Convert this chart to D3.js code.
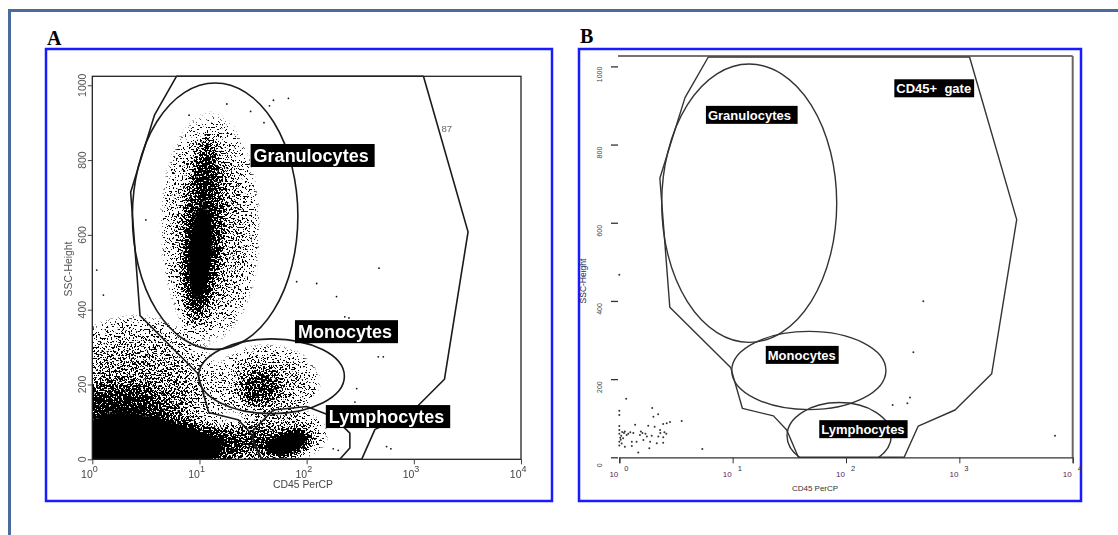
<!DOCTYPE html>
<html>
<head>
<meta charset="utf-8">
<script src="https://cdn.jsdelivr.net/npm/d3@7"></script>
<style>
body { margin: 0; background: #fff; }
svg { display: block; font-family: Arial, "Liberation Sans", sans-serif; }
</style>
</head>
<body>
<script>
// gates (CD45 PerCP, SSC-Height), the same in both panels
var cd45Gate = [[6.1, 1024], [3.8, 920], [2.28, 714], [2.79, 384], [9.6, 230], [12.2, 125],
                [22.9, 106], [30, 70], [38, 0], [326, 0], [434, 80], [916, 121],
                [1930, 214], [3206, 608], [1230, 1024]];
// ellipse gates: centre cd45, centre ssc, half width in decades, half height in ssc
var granGate = [14, 650, 0.772, 356];
var monoGate = [47, 222, 0.68, 100];
var lymphGateA = [[31.8, 78], [48.9, 132], [100, 141], [177, 114], [253, 70],
                  [253, 30], [204, 0], [38, 0], [31.8, 43]];
var lymphGateB = [87, 55, 0.46, 85];

// panel A event density
// [cd45 centre, ssc centre, half width (decades), half height, tilt, peak density]
var densityA = [
  [12.6, 620, 0.5, 330, 0, 0.36],
  [10.7, 600, 0.24, 280, 4, 0.6],
  [10, 540, 0.17, 200, 4, 0.85],
  [11.5, 780, 0.12, 110, 4, 0.5],
  [42, 205, 0.55, 110, 0, 0.32],
  [37, 190, 0.25, 65, 0, 0.6],
  [60, 65, 0.45, 75, 0, 0.4],
  [66, 42, 0.26, 38, -18, 1],
  [2.8, 30, 1.0, 90, 0, 1],
  [1.6, 110, 0.7, 115, 0, 0.75],
  [2.5, 150, 0.9, 250, 0, 0.45],
  [20, 40, 0.45, 60, 0, 0.5],
  [30, 60, 0.3, 50, 0, 0.28]
];
// isolated events in panel A
var eventsA = [[473, 511], [80.7, 475], [124, 470], [190, 435], [227, 381], [466, 274],
               [557, 34], [1.1, 506], [1.27, 439], [67.6, 965], [49, 960], [3.16, 640],
               [417, 354], [519, 274], [611, 28], [248, 378], [293, 189], [282, 153],
               [177, 28], [197, 24], [30, 930], [45, 945], [40, 900], [18, 950], [8, 920]];
// events in panel B
var eventsB = [[1.0, 119], [1.0, 108], [1.0, 80], [1.95, 126], [2.2, 110], [2.0, 104],
               [1.38, 83], [1.8, 81], [2.05, 78], [2.44, 85], [2.62, 87], [2.8, 90],
               [3.55, 93], [2.29, 70], [1.33, 62], [1.52, 57], [1.75, 53], [1.93, 55],
               [2.21, 53], [2.44, 51], [1.16, 57], [1.08, 49], [1.29, 40], [1.42, 40],
               [1.63, 44], [1.87, 40], [2.14, 36], [2.44, 37], [1.12, 27], [1.29, 29],
               [1.47, 12], [1.84, 23], [5.4, 21], [1.0, 70], [1.0, 60], [1.02, 50],
               [1.03, 45], [1.0, 40], [1.05, 35], [1.0, 30], [1.04, 55], [1.06, 65],
               [1.1, 62], [1.12, 66], [1.2, 60], [1.25, 64], [1.6, 62], [1.7, 60],
               [1.55, 66], [2.3, 62], [2.5, 64], [2.6, 60], [1.0, 467], [1.15, 150],
               [481, 399], [393, 269], [258, 134], [348, 138], [367, 153], [6980, 55]];

// label anchors: text, cd45 (left edge), ssc (top edge)
var labelsA = [['Granulocytes', 30, 843], ['Monocytes', 77.8, 372], ['Lymphocytes', 151, 145]];
var labelsB = [['Granulocytes ', 5.81, 899], ['CD45+  gate', 267, 967],
               ['Monocytes', 19.6, 285], ['Lymphocytes', 58.1, 95]];
var decades = [0, 1, 2, 3, 4];
var sscLabels = [0, 200, 400, 600, 800, 1000];

var W = 1118, H = 535;
var svg = d3.select('body').append('svg').attr('width', W).attr('height', H);
var defs = svg.append('defs');

// outer frame
svg.append('path').attr('d', 'M9.5,535 V10.5 H1118')
  .attr('fill', 'none').attr('stroke', '#4a6b9c').attr('stroke-width', 3);

// panel boxes
svg.append('rect').attr('x', 46).attr('y', 49).attr('width', 506).attr('height', 452)
  .attr('fill', 'none').attr('stroke', '#1a1aff').attr('stroke-width', 2.5);
svg.append('rect').attr('x', 579).attr('y', 49).attr('width', 502).attr('height', 452)
  .attr('fill', 'none').attr('stroke', '#1a1aff').attr('stroke-width', 2.5);
svg.append('text').attr('x', 47).attr('y', 45).text('A')
  .attr('font-family', '"Liberation Serif", "Times New Roman", serif').attr('font-weight', 'bold').attr('font-size', 20);
svg.append('text').attr('x', 580).attr('y', 43).text('B')
  .attr('font-family', '"Liberation Serif", "Times New Roman", serif').attr('font-weight', 'bold').attr('font-size', 20);

var minorTicks = [];
[0, 1, 2, 3].forEach(function(e) {
  for (var m = 2; m <= 9; m++) minorTicks.push(m * Math.pow(10, e));
});
var majorTicks = decades.map(function(e) { return Math.pow(10, e); });
var sscMinor = d3.range(0, 1025, 40);

function tag(g, txt, px, py, fs, h, padL, padR) {
  var r = g.append('rect').attr('x', px).attr('y', py).attr('height', h).attr('fill', '#000');
  var t = g.append('text').attr('x', px + padL).attr('y', py + h / 2).attr('dy', '0.36em')
    .attr('fill', '#fff').attr('font-weight', 'bold').attr('font-size', fs)
    .attr('xml:space', 'preserve').text(txt);
  r.attr('width', t.node().getComputedTextLength() + padL + padR);
}

function ellipseGate(g, x, y, gate, dec, ppu) {
  g.append('ellipse')
    .attr('cx', x(gate[0])).attr('cy', y(gate[1]))
    .attr('rx', gate[2] * dec).attr('ry', gate[3] * ppu);
}

// ---------- panel A ----------
var xA = d3.scaleLog().domain([1, 1e4]).range([92.3, 521]);
var yA = d3.scaleLinear().domain([0, 1024]).range([459.3, 76.3]);
var decA = (xA.range()[1] - xA.range()[0]) / 4;
var ppuA = (yA.range()[0] - yA.range()[1]) / 1024;

defs.append('clipPath').attr('id', 'clipA').append('rect')
  .attr('x', 92.3).attr('y', 76.3).attr('width', 428.7).attr('height', 383);

// soft falloff for clouds, plateau for saturated cores
var soft = defs.append('radialGradient').attr('id', 'soft');
soft.append('stop').attr('offset', 0).attr('stop-color', '#000').attr('stop-opacity', 1);
soft.append('stop').attr('offset', 0.55).attr('stop-color', '#000').attr('stop-opacity', 0.8);
soft.append('stop').attr('offset', 1).attr('stop-color', '#000').attr('stop-opacity', 0);
var flat = defs.append('radialGradient').attr('id', 'flat');
flat.append('stop').attr('offset', 0).attr('stop-color', '#000').attr('stop-opacity', 1);
flat.append('stop').attr('offset', 0.65).attr('stop-color', '#000').attr('stop-opacity', 1);
flat.append('stop').attr('offset', 1).attr('stop-color', '#000').attr('stop-opacity', 0.1);

// density -> speckle: density minus noise, then hard threshold
var filt = defs.append('filter').attr('id', 'stipple')
  .attr('filterUnits', 'userSpaceOnUse')
  .attr('x', 40).attr('y', 40).attr('width', 520).attr('height', 460)
  .attr('color-interpolation-filters', 'sRGB');
filt.append('feGaussianBlur').attr('in', 'SourceAlpha').attr('stdDeviation', 3).attr('result', 'dens');
filt.append('feTurbulence').attr('type', 'fractalNoise').attr('baseFrequency', 0.55)
  .attr('numOctaves', 2).attr('seed', 7).attr('result', 'turb');
filt.append('feColorMatrix').attr('in', 'turb').attr('type', 'matrix')
  .attr('values', '0 0 0 0 0  0 0 0 0 0  0 0 0 0 0  3.4 0 0 0 -1.2').attr('result', 'noise');
filt.append('feComposite').attr('in', 'dens').attr('in2', 'noise').attr('operator', 'arithmetic')
  .attr('k1', 0).attr('k2', 1.3).attr('k3', -1).attr('k4', 0.5).attr('result', 'diff');
filt.append('feColorMatrix').attr('in', 'diff').attr('type', 'matrix')
  .attr('values', '0 0 0 0 0  0 0 0 0 0  0 0 0 0 0  0 0 0 14 -7.6');

var gA = svg.append('g');
var densG = gA.append('g').attr('clip-path', 'url(#clipA)').append('g').attr('filter', 'url(#stipple)');
densG.selectAll('ellipse').data(densityA).enter().append('ellipse')
  .attr('transform', function(d) { return 'translate(' + xA(d[0]) + ',' + yA(d[1]) + ') rotate(' + d[4] + ')'; })
  .attr('rx', function(d) { return d[2] * decA; })
  .attr('ry', function(d) { return d[3] * ppuA; })
  .attr('fill', function(d) { return d[5] >= 1 ? 'url(#flat)' : 'url(#soft)'; })
  .attr('fill-opacity', function(d) { return d[5]; });

gA.append('g').selectAll('circle').data(eventsA).enter().append('circle')
  .attr('cx', function(d) { return xA(d[0]); }).attr('cy', function(d) { return yA(d[1]); })
  .attr('r', 0.9).attr('fill', '#111');

var gatesA = gA.append('g').attr('fill', 'none').attr('stroke', '#1a1a1a').attr('stroke-width', 1.6)
  .attr('stroke-linejoin', 'round');
var lineA = d3.line().x(function(d) { return xA(d[0]); }).y(function(d) { return yA(d[1]); });
gatesA.append('path').attr('d', lineA(cd45Gate) + 'Z');
gatesA.append('path').attr('d', lineA(lymphGateA) + 'Z');
ellipseGate(gatesA, xA, yA, granGate, decA, ppuA);
ellipseGate(gatesA, xA, yA, monoGate, decA, ppuA);

gA.append('rect').attr('x', 92.3).attr('y', 76.3).attr('width', 428.7).attr('height', 383)
  .attr('fill', 'none').attr('stroke', '#222').attr('stroke-width', 1.3);

gA.append('text').attr('x', xA(1811)).attr('y', yA(876)).attr('font-size', 9.5).attr('fill', '#666').text('87');

labelsA.forEach(function(l) { tag(gA, l[0], xA(l[1]), yA(l[2]), 18, 23, 3, 6); });

// axes A
var axA = gA.append('g').attr('transform', 'translate(0,459.3)').attr('color', '#444');
axA.call(d3.axisBottom(xA).tickValues(minorTicks).tickSize(3).tickFormat(''));
axA.call(d3.axisBottom(xA).tickValues(majorTicks).tickSize(5).tickFormat(''));
axA.selectAll('.domain').remove();
var ayA = gA.append('g').attr('transform', 'translate(92.3,0)').attr('color', '#444');
ayA.call(d3.axisLeft(yA).tickValues(sscMinor).tickSize(2.5).tickFormat(''));
ayA.call(d3.axisLeft(yA).tickValues(sscLabels).tickSize(4.5).tickFormat(''));
ayA.selectAll('.domain').remove();

decades.forEach(function(e) {
  var px = xA(Math.pow(10, e));
  gA.append('text').attr('x', px + 0.5).attr('y', 477.5).attr('text-anchor', 'end')
    .attr('font-size', 10.5).attr('fill', '#444').text('10');
  gA.append('text').attr('x', px + 0.5).attr('y', 472).attr('font-size', 9)
    .attr('fill', '#444').text(e);
});
sscLabels.forEach(function(v) {
  gA.append('text').attr('transform', 'translate(86,' + yA(v) + ') rotate(-90)')
    .attr('text-anchor', 'middle').attr('font-size', 10.5).attr('fill', '#555').text(v);
});
gA.append('text').attr('x', 303).attr('y', 488).attr('text-anchor', 'middle')
  .attr('font-size', 10.4).attr('fill', '#444').text('CD45 PerCP');
gA.append('text').attr('transform', 'translate(72,269) rotate(-90)').attr('text-anchor', 'middle')
  .attr('font-size', 10.4).attr('fill', '#555').text('SSC-Height');

// ---------- panel B ----------
var xB = d3.scaleLog().domain([1, 1e4]).range([619.3, 1072.7]);
var yB = d3.scaleLinear().domain([0, 1024]).range([457.3, 57]);
var decB = (xB.range()[1] - xB.range()[0]) / 4;
var ppuB = (yB.range()[0] - yB.range()[1]) / 1024;

var gB = svg.append('g');
gB.append('g').selectAll('circle').data(eventsB).enter().append('circle')
  .attr('cx', function(d) { return xB(d[0]); }).attr('cy', function(d) { return yB(d[1]); })
  .attr('r', 1).attr('fill', '#333');

var gatesB = gB.append('g').attr('fill', 'none').attr('stroke', '#333').attr('stroke-width', 1.4)
  .attr('stroke-linejoin', 'round');
var lineB = d3.line().x(function(d) { return xB(d[0]); }).y(function(d) { return yB(d[1]); });
gatesB.append('path').attr('d', lineB(cd45Gate) + 'Z');
ellipseGate(gatesB, xB, yB, granGate, decB, ppuB);
ellipseGate(gatesB, xB, yB, monoGate, decB, ppuB);
defs.append('clipPath').attr('id', 'clipB').append('rect')
  .attr('x', 600).attr('y', 56).attr('width', 480).attr('height', 401.3);
gatesB.append('g').attr('clip-path', 'url(#clipB)').call(function(g) {
  ellipseGate(g, xB, yB, lymphGateB, decB, ppuB);
});

// frame B: top, right, bottom only
gB.append('path').attr('d', 'M618,56 H1072.7').attr('stroke', '#444').attr('stroke-width', 1.5);
gB.append('path').attr('d', 'M1072.7,56 V457.3').attr('stroke', '#666').attr('stroke-width', 2);

labelsB.forEach(function(l) { tag(gB, l[0], xB(l[1]), yB(l[2]), 13, 18, 2, 3); });

var axB = gB.append('g').attr('transform', 'translate(0,457.3)').attr('color', '#333');
axB.call(d3.axisBottom(xB).tickValues(minorTicks).tickSize(4).tickFormat(''));
axB.call(d3.axisBottom(xB).tickValues(majorTicks).tickSize(6).tickFormat(''));
axB.selectAll('.domain').attr('stroke-width', 1.3);
var ayB = gB.append('g').attr('transform', 'translate(619,0)').attr('color', '#333');
ayB.call(d3.axisLeft(yB).tickValues(sscMinor).tickSize(3).tickFormat(''));
ayB.call(d3.axisLeft(yB).tickValues(sscLabels).tickSize(7).tickFormat(''));
ayB.selectAll('.domain').remove();
ayB.selectAll('line').attr('stroke-width', 1.3).attr('transform', 'translate(-1,0)');

decades.forEach(function(e) {
  var px = xB(Math.pow(10, e));
  gB.append('text').attr('x', px - 1).attr('y', 477).attr('text-anchor', 'end')
    .attr('font-size', 8).attr('fill', '#5a2456').text('10');
  gB.append('text').attr('x', px + 5).attr('y', 470.5).attr('font-size', 7.5)
    .attr('fill', '#3a2a40').text(e);
});
sscLabels.forEach(function(v) {
  gB.append('text').attr('transform', 'translate(601.5,' + (yB(v) + 8) + ') rotate(-90)')
    .attr('text-anchor', 'middle').attr('font-size', 7).attr('fill', '#444').text(v);
});
gB.append('text').attr('x', 815).attr('y', 490.5).attr('text-anchor', 'middle')
  .attr('font-size', 8).attr('fill', '#333').text('CD45 PerCP');
gB.append('text').attr('transform', 'translate(585.5,281) rotate(-90)').attr('text-anchor', 'middle')
  .attr('font-size', 8.5).attr('fill', '#1b2a55').text('SSC-Height');
</script>
</body>
</html>
